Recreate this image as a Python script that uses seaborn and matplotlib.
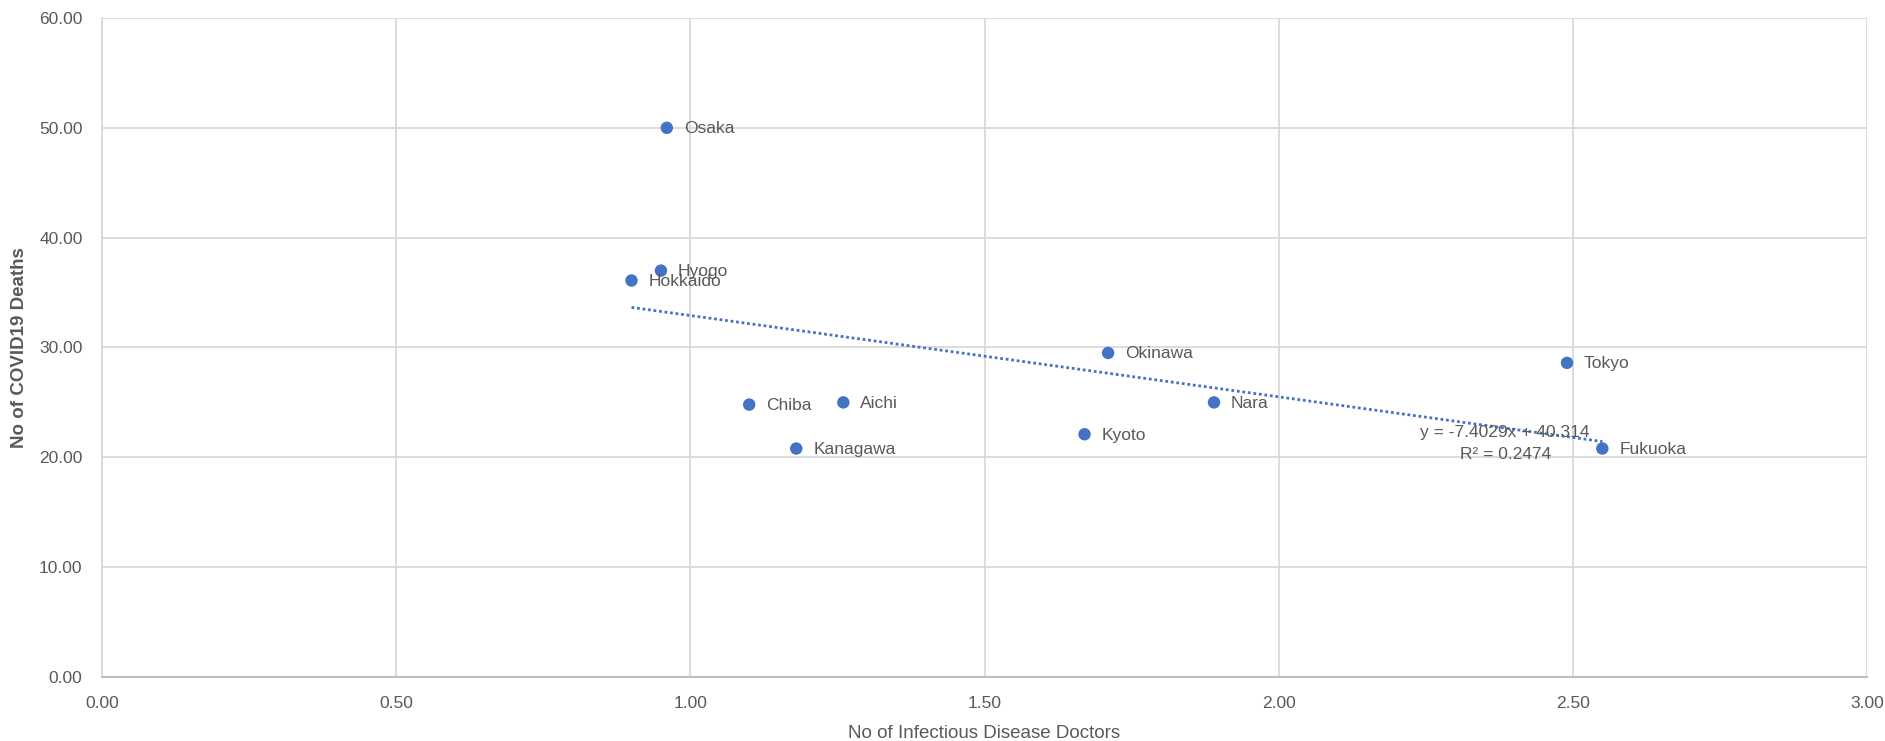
import matplotlib
matplotlib.use("Agg")
import matplotlib.pyplot as plt
import seaborn as sns
import numpy as np
import pandas as pd
from matplotlib import font_manager

prefectures = ["Osaka", "Hyogo", "Hokkaido", "Chiba", "Aichi", "Kanagawa",
               "Okinawa", "Kyoto", "Nara", "Tokyo", "Fukuoka"]
doctors = [0.96, 0.95, 0.90, 1.10, 1.26, 1.18, 1.71, 1.67, 1.89, 2.49, 2.55]
deaths = [50.0, 37.0, 36.1, 24.8, 25.0, 20.8, 29.5, 22.1, 25.0, 28.6, 20.8]
trend_slope = -7.4029
trend_intercept = 40.314
trend_r2 = 0.2474
x_ticks = [0.0, 0.5, 1.0, 1.5, 2.0, 2.5, 3.0]
y_ticks = [0, 10, 20, 30, 40, 50, 60]

df = pd.DataFrame({"prefecture": prefectures, "doctors": doctors, "deaths": deaths})

sns.set_theme(style="white")
names = {f.name for f in font_manager.fontManager.ttflist}
fam = "Liberation Sans Narrow" if "Liberation Sans Narrow" in names else "Liberation Sans"
plt.rcParams["font.family"] = [fam, "DejaVu Sans"]

blue = "#4472C4"
grid_c = "#D9D9D9"
text_c = "#595959"

fig = plt.figure(figsize=(18.85, 7.41), dpi=100)
ax = fig.add_axes([0.0541, 0.0864, 0.9364, 0.8893])

sns.scatterplot(data=df, x="doctors", y="deaths", ax=ax, color=blue, s=80,
                edgecolor="none", zorder=3)

xs = np.array([min(doctors), max(doctors)])
ax.plot(xs, trend_slope * xs + trend_intercept, linestyle=(0, (1, 1)),
        color=blue, linewidth=2, zorder=2)

for name, x, y in zip(prefectures, doctors, deaths):
    ax.annotate(name, (x, y), xytext=(17, -1), textcoords="offset pixels",
                ha="left", va="center", fontsize=12.5, color=text_c, zorder=4)

ax.text(2.385, 22.3, f"y = {trend_slope}x + {trend_intercept}", ha="center", va="center",
        fontsize=12.5, color=text_c, zorder=4)
ax.text(2.385, 20.3, f"R² = {trend_r2}", ha="center", va="center",
        fontsize=12.5, color=text_c, zorder=4)

ax.set_xlim(0, 3)
ax.set_ylim(0, 60)
ax.set_xticks(x_ticks)
ax.set_yticks(y_ticks)
ax.set_xticklabels([f"{v:.2f}" for v in x_ticks], fontsize=12.5, color=text_c)
ax.set_yticklabels([f"{v:.2f}" for v in y_ticks], fontsize=12.5, color=text_c)
ax.tick_params(axis="both", length=0, pad=14)
ax.grid(True, color=grid_c, linewidth=1.3)
ax.set_axisbelow(True)
for side in ["top", "right"]:
    ax.spines[side].set_visible(False)
ax.spines["left"].set_color(grid_c)
ax.spines["left"].set_linewidth(1.3)
ax.spines["bottom"].set_color("#BFBFBF")
ax.spines["bottom"].set_linewidth(1.5)

ax.set_xlabel("No of Infectious Disease Doctors", fontsize=13.5, color=text_c, labelpad=10)
ax.set_ylabel("No of COVID19 Deaths", fontsize=13.5, color=text_c, labelpad=8,
              fontweight="semibold")

fig.savefig("out.png", dpi=100)
